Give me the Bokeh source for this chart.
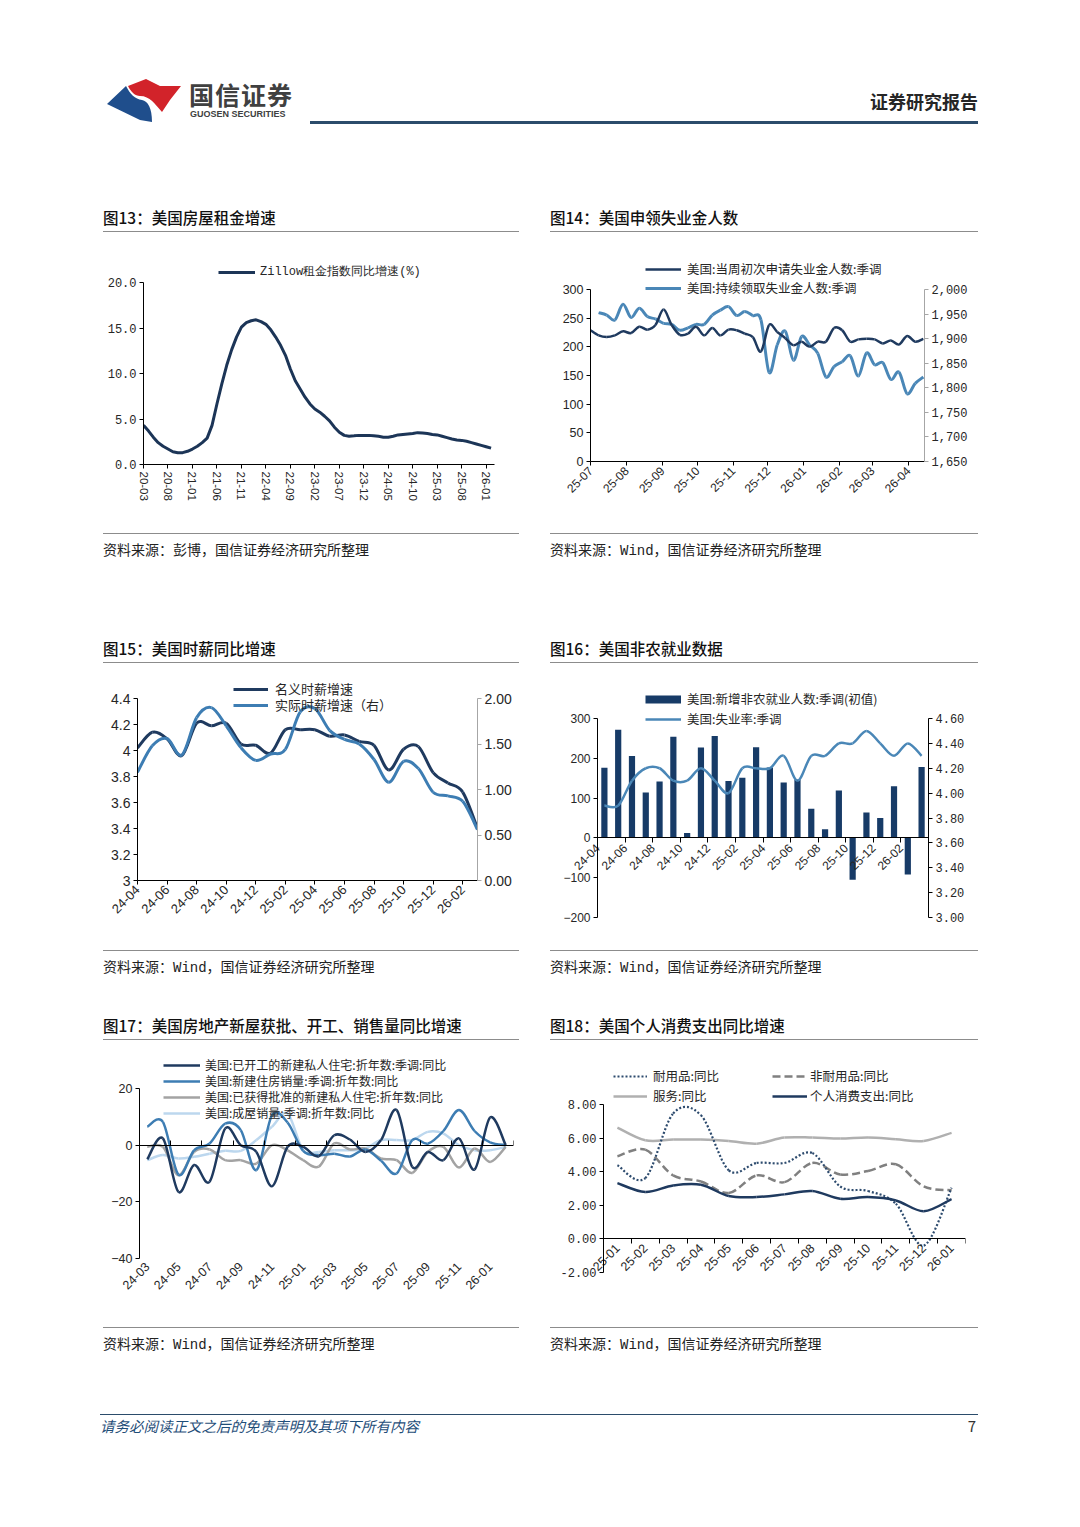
import numpy as np
import pandas as pd
from bokeh.plotting import figure
from bokeh.models import (Range1d, LinearAxis, FixedTicker, NumeralTickFormatter, Legend,
                          LegendItem, Div, Spacer, ColumnDataSource)
from bokeh.layouts import column, row
from bokeh.embed import file_html
from bokeh.resources import INLINE
from bokeh.core.properties import value

# ---------------- data ----------------
# Fig 13: Zillow rent index YoY (%), monthly 20-03 .. 26-02
X13_LABELS = ["20-03", "20-08", "21-01", "21-06", "21-11", "22-04", "22-09", "23-02",
              "23-07", "23-12", "24-05", "24-10", "25-03", "25-08", "26-01"]
ZILLOW = [4.3, 3.7, 3.0, 2.4, 2.0, 1.7, 1.4, 1.3, 1.3, 1.45,
          1.7, 2.0, 2.4, 2.9, 4.3, 6.65, 8.85, 10.9, 12.6, 14.0,
          15.1, 15.6, 15.8, 15.9, 15.7, 15.4, 14.8, 14.0, 13.1, 12.0,
          10.5, 9.2, 8.3, 7.4, 6.65, 6.1, 5.75, 5.3, 4.8, 4.1,
          3.55, 3.2, 3.1, 3.15, 3.2, 3.2, 3.2, 3.15, 3.1, 3.0,
          3.0, 3.1, 3.25, 3.3, 3.35, 3.4, 3.5, 3.45, 3.4, 3.3,
          3.25, 3.1, 2.95, 2.8, 2.7, 2.65, 2.55, 2.4, 2.25, 2.1,
          1.95, 1.8]
Y13_TICKS = [0, 5, 10, 15, 20]

# Fig 14: weekly jobless claims (thousand), from 2025-07
X14_LABELS = ["25-07", "25-08", "25-09", "25-10", "25-11", "25-12", "26-01", "26-02", "26-03", "26-04"]
INITIAL = [229, 220, 217, 220, 227, 224, 235, 230, 238, 265,
           238, 221, 223, 235, 220, 233, 220, 230, 229, 223,
           217, 192, 238, 226, 215, 203, 209, 200, 209, 209,
           233, 229, 209, 213, 214, 213, 206, 211, 204, 219,
           209, 214]
CONTINUING = [1953, 1948, 1938, 1970, 1943, 1962, 1945, 1940, 1931, 1929,
              1917, 1922, 1929, 1929, 1948, 1958, 1965, 1947, 1955, 1947,
              1938, 1831, 1887, 1915, 1856, 1904, 1887, 1870, 1822, 1843,
              1853, 1865, 1824, 1871, 1847, 1851, 1817, 1832, 1788, 1809,
              1822]
Y14L_TICKS = [0, 50, 100, 150, 200, 250, 300]
Y14R_TICKS = [1650, 1700, 1750, 1800, 1850, 1900, 1950, 2000]

# Fig 15: hourly earnings YoY, monthly 24-04 .. 26-03
X15_LABELS = ["24-04", "24-06", "24-08", "24-10", "24-12", "25-02", "25-04", "25-06",
              "25-08", "25-10", "25-12", "26-02"]
NOMINAL = [4.02, 4.14, 4.09, 3.96, 4.21, 4.19, 4.21, 4.05, 4.04, 3.98, 4.16, 4.16,
           4.16, 4.11, 4.12, 4.07, 4.04, 3.85, 4.01, 4.03, 3.83, 3.75, 3.68, 3.40]
REAL = [1.19, 1.48, 1.56, 1.38, 1.79, 1.90, 1.70, 1.46, 1.32, 1.39, 1.44, 1.85,
        1.89, 1.65, 1.55, 1.50, 1.33, 1.08, 1.31, 1.23, 0.97, 0.93, 0.87, 0.56]
Y15L_TICKS = [3, 3.2, 3.4, 3.6, 3.8, 4, 4.2, 4.4]
Y15R_TICKS = [0, 0.5, 1.0, 1.5, 2.0]

# Fig 16: nonfarm payrolls (thousand) and unemployment rate, monthly 24-04 .. 26-03
X16_LABELS = ["24-04", "24-06", "24-08", "24-10", "24-12", "25-02", "25-04", "25-06",
              "25-08", "25-10", "25-12", "26-02"]
PAYROLLS = [176, 272, 206, 114, 142, 254, 12, 227, 256, 143, 151, 228,
            177, 139, 147, 73, 22, 119, -105, 64, 50, 130, -92, 178]
UNRATE = [3.9, 3.9, 4.1, 4.2, 4.2, 4.1, 4.1, 4.2, 4.1, 4.0, 4.2, 4.2,
          4.2, 4.3, 4.1, 4.3, 4.3, 4.4, 4.4, 4.5, 4.4, 4.3, 4.4, 4.3]
Y16L_TICKS = [-200, -100, 0, 100, 200, 300]
Y16R_TICKS = [3.0, 3.2, 3.4, 3.6, 3.8, 4.0, 4.2, 4.4, 4.6]

# Fig 17: housing YoY (%), monthly 24-03 .. 26-02
X17_LABELS = ["24-03", "24-05", "24-07", "24-09", "24-11", "25-01", "25-03", "25-05",
              "25-07", "25-09", "25-11", "26-01"]
STARTS = [-5.0, 2.4, -16.5, -7.0, -12.9, 5.9, 0.0, -2.4, -14.5, -0.6, -0.6, -3.9,
          3.5, 2.0, -2.4, 1.8, 12.4, -7.6, -2.4, -5.3, 2.4, -8.6, 9.8, 0.0]
NEW_SALES = [6.5, 8.2, -10.4, -1.8, 0.6, 7.6, 5.3, -8.8, 10.5, 8.0, -2.0, -3.5,
             -3.0, -4.0, -1.5, -5.5, -10.0, 1.8, 0.5, 5.0, 12.4, 5.0, 1.0, 0.0]
PERMITS = [-0.6, -0.6, -10.6, -2.4, -1.5, -5.3, -5.3, -6.5, 0.0, -1.8, -5.3, -7.6,
           0.6, -1.5, -1.2, -4.7, -5.3, -9.8, -2.4, -0.6, -7.9, -1.2, -5.9, -0.6]
EXISTING = [-5.3, -3.5, -4.7, -4.1, -3.0, -2.0, -2.0, 1.8, 6.5, 11.2, -1.8, -2.4,
            -1.8, -1.8, -1.2, 1.8, 1.8, 1.8, 4.7, 4.1, 0.0, -1.8, -1.8, -0.6]
Y17_TICKS = [-40, -20, 0, 20]

# Fig 18: PCE YoY (%), monthly 25-01 .. 26-01
X18_LABELS = ["25-01", "25-02", "25-03", "25-04", "25-05", "25-06", "25-07", "25-08",
              "25-09", "25-10", "25-11", "25-12", "26-01"]
DURABLES = [4.38, 3.62, 7.46, 7.36, 4.08, 4.52, 4.52, 5.11, 3.12, 2.85, 2.09, -0.40, 3.04]
NONDURABLES = [4.92, 5.31, 3.78, 3.42, 2.73, 3.78, 3.38, 4.52, 3.84, 4.04, 4.44, 3.12, 2.89]
SERVICES = [6.63, 5.87, 5.91, 5.91, 5.83, 5.67, 6.03, 6.03, 5.97, 6.03, 5.93, 5.83, 6.31]
PCE = [3.32, 2.79, 3.18, 3.22, 2.55, 2.49, 2.65, 2.85, 2.39, 2.49, 2.29, 1.65, 2.37]
Y18_TICKS = [-2, 0, 2, 4, 6, 8]

# ---------------- style ----------------
NAVY = "#1f3a5f"
BLUE = "#4a87b7"
BLUE2 = "#3d7db3"
GRAY = "#a3a3a3"
LIGHT = "#bcd7ee"
BAR = "#173b67"
CJK = "Noto Sans CJK SC"
SANS = "Liberation Sans"
MONO = "Liberation Mono"
TXT = "#262626"


def ext_hi(lo, hi, frame_px, extra_px):
    """range end leaving extra_px of free room beyond hi"""
    return hi + extra_px * (hi - lo) / frame_px


def ext_lo(lo, hi, frame_px, extra_px):
    return lo - extra_px * (hi - lo) / frame_px


def base_fig(w, h, xr, yr, bl, br, bt, bb):
    p = figure(width=w, height=h, x_range=xr, y_range=yr, output_backend="svg",
               toolbar_location=None, min_border_left=bl, min_border_right=br,
               min_border_top=bt, min_border_bottom=bb)
    p.margin = 0
    p.outline_line_color = None
    p.xgrid.visible = False
    p.ygrid.visible = False
    p.background_fill_color = "white"
    p.border_fill_color = "white"
    return p


def style_axis(ax, font=SANS, size="12px", color="#000000", tick_out=4, tick_in=0, standoff=3):
    ax.axis_line_color = color
    ax.axis_line_width = 1
    ax.major_tick_line_color = color
    ax.major_tick_out = tick_out
    ax.major_tick_in = tick_in
    ax.minor_tick_line_color = None
    ax.major_label_text_font = font
    ax.major_label_text_font_size = size
    ax.major_label_text_color = TXT
    ax.major_label_standoff = standoff


def smooth(p, xs, ys, color, width, dash="solid", y_range_name="default"):
    xs = np.asarray(xs, float)
    ys = np.asarray(ys, float)
    xp = np.concatenate([xs[:1], xs, xs[-1:]])
    yp = np.concatenate([ys[:1], ys, ys[-1:]])
    i = np.arange(len(xs) - 1)
    src = ColumnDataSource(dict(
        x0=xp[i + 1], y0=yp[i + 1], x1=xp[i + 2], y1=yp[i + 2],
        cx0=xp[i + 1] + (xp[i + 2] - xp[i]) / 6.0, cy0=yp[i + 1] + (yp[i + 2] - yp[i]) / 6.0,
        cx1=xp[i + 2] - (xp[i + 3] - xp[i + 1]) / 6.0, cy1=yp[i + 2] - (yp[i + 3] - yp[i + 1]) / 6.0))
    return p.bezier(x0="x0", y0="y0", x1="x1", y1="y1", cx0="cx0", cy0="cy0",
                    cx1="cx1", cy1="cy1", source=src, line_color=color, line_width=width,
                    line_dash=dash, y_range_name=y_range_name)


def add_legend(p, items, loc, glyph_w, standoff, gh=16, spacing=0, size="12.5px", font=CJK):
    lg = Legend(items=[LegendItem(label=value(t), renderers=[r]) for t, r in items],
                location=loc, orientation="vertical", glyph_width=glyph_w, glyph_height=gh,
                label_height=gh, label_standoff=standoff, spacing=spacing, padding=0, margin=0,
                border_line_color=None, background_fill_alpha=0,
                label_text_font=font, label_text_font_size=size, label_text_color=TXT)
    p.add_layout(lg)
    return lg


def add_row_legends(p, items, x, ys, glyph_w, standoff, gh=14, size="12.5px"):
    """one single-item legend per row, so that rows can sit closer than the text box height"""
    for (t, r), y in zip(items, ys):
        add_legend(p, [(t, r)], (x, y), glyph_w, standoff, gh=gh, spacing=0, size=size)


def xlabels_axis(ax, ticks, labels):
    ax.ticker = FixedTicker(ticks=list(ticks))
    ax.major_label_overrides = {t: s for t, s in zip(ticks, labels)}


def blank_labels(ax, ticks):
    ax.ticker = FixedTicker(ticks=list(ticks))
    ax.major_label_overrides = {t: "" for t in ticks}


# ---------------- Fig 13 ----------------
FH13 = 301 - 50 - 69
p13 = base_fig(416, 301, Range1d(0, 71.7), Range1d(0, ext_hi(0, 20, FH13, 50)), 40, 25, 0, 69)
r13 = p13.line(np.arange(len(ZILLOW)), ZILLOW, line_color="#1c3557", line_width=3)
xa = p13.xaxis[0]
style_axis(xa, SANS, "11.5px")
xlabels_axis(xa, [5 * k for k in range(len(X13_LABELS))], X13_LABELS)
xa.major_label_orientation = "vertical"
ya = p13.yaxis[0]
style_axis(ya, MONO, "12px")
ya.ticker = FixedTicker(ticks=Y13_TICKS)
ya.formatter = NumeralTickFormatter(format="0.0")
ya.bounds = (0, 20)
add_legend(p13, [("Zillow租金指数同比增速(%)", r13)], (75, 184), 37, 5, size="12px", font=MONO)

# ---------------- Fig 14 ----------------
FH14 = 301 - 57 - 72
p14 = base_fig(428, 301, Range1d(0, 288), Range1d(0, ext_hi(0, 300, FH14, 57)), 40, 54, 0, 72)
p14.extra_y_ranges = {"r": Range1d(1650, ext_hi(1650, 2000, FH14, 57))}
r14b = smooth(p14, 7 * (np.arange(len(CONTINUING)) + 1), CONTINUING, BLUE, 3, y_range_name="r")
r14a = smooth(p14, 7 * np.arange(len(INITIAL)), INITIAL, NAVY, 2.5)
start14 = pd.Timestamp("2025-07-01")
tick14 = [(pd.Timestamp("20" + s + "-01") - start14).days for s in X14_LABELS]
xa = p14.xaxis[0]
style_axis(xa, SANS, "12px")
xlabels_axis(xa, tick14, X14_LABELS)
xa.major_label_orientation = np.pi / 4
ya = p14.yaxis[0]
style_axis(ya, SANS, "12.5px")
ya.ticker = FixedTicker(ticks=Y14L_TICKS)
ya.bounds = (0, 300)
yr = LinearAxis(y_range_name="r")
style_axis(yr, MONO, "12px", color="#a6a6a6")
yr.ticker = FixedTicker(ticks=Y14R_TICKS)
yr.formatter = NumeralTickFormatter(format="0,0")
yr.bounds = (1650, 2000)
p14.add_layout(yr, "right")
add_legend(p14, [("美国:当周初次申请失业金人数:季调", r14a), ("美国:持续领取失业金人数:季调", r14b)],
           (55, 164), 36, 6, gh=16, spacing=0)

# ---------------- Fig 15 ----------------
FH15 = 287 - 35 - 70
p15 = base_fig(416, 287, Range1d(0, 23), Range1d(3, ext_hi(3, 4.4, FH15, 35)), 34, 42, 0, 70)
p15.extra_y_ranges = {"r": Range1d(0, ext_hi(0, 2, FH15, 35))}
xm15 = np.arange(len(NOMINAL))
r15a = smooth(p15, xm15, NOMINAL, NAVY, 3)
r15b = smooth(p15, xm15, REAL, BLUE2, 3, y_range_name="r")
xa = p15.xaxis[0]
style_axis(xa, SANS, "13px")
xlabels_axis(xa, [2 * k for k in range(len(X15_LABELS))], X15_LABELS)
xa.major_label_orientation = np.pi / 4
ya = p15.yaxis[0]
style_axis(ya, SANS, "14px")
ya.ticker = FixedTicker(ticks=Y15L_TICKS)
ya.formatter = NumeralTickFormatter(format="0.[0]")
ya.bounds = (3, 4.4)
yr = LinearAxis(y_range_name="r")
style_axis(yr, SANS, "14px", color="#a6a6a6")
yr.ticker = FixedTicker(ticks=Y15R_TICKS)
yr.formatter = NumeralTickFormatter(format="0.00")
yr.bounds = (0, 2)
p15.add_layout(yr, "right")
add_row_legends(p15, [("名义时薪增速", r15a), ("实际时薪增速（右）", r15b)], 96, [182, 166], 35, 7,
                size="13px")

# ---------------- Fig 16 ----------------
FH16 = 287 - 55 - 33
FW16 = 428 - 47 - 50
p16 = base_fig(428, 287, Range1d(ext_lo(0, 24, FW16, 47), 24),
               Range1d(ext_lo(-200, 300, FH16, 33), ext_hi(-200, 300, FH16, 55)), 0, 50, 0, 0)
p16.extra_y_ranges = {"r": Range1d(ext_lo(3.0, 4.6, FH16, 33), ext_hi(3.0, 4.6, FH16, 55))}
xc16 = np.arange(len(PAYROLLS)) + 0.5
p16.vbar(x=xc16, top=PAYROLLS, width=0.45, fill_color=BAR, line_color=None)
r16l = smooth(p16, xc16, UNRATE, BLUE, 2.5, y_range_name="r")
r16proxy = p16.line(x=[np.nan], y=[np.nan], line_color=BAR, line_width=8, line_cap="butt")
xa = p16.xaxis[0]
style_axis(xa, SANS, "12px", tick_out=5)
xa.fixed_location = 0
xa.bounds = (0, 24)
xlabels_axis(xa, [2 * k for k in range(len(X16_LABELS))], X16_LABELS)
xa.major_label_orientation = np.pi / 4
ya = p16.yaxis[0]
style_axis(ya, SANS, "12px")
ya.fixed_location = 0
ya.bounds = (-200, 300)
ya.ticker = FixedTicker(ticks=Y16L_TICKS)
yr = LinearAxis(y_range_name="r")
style_axis(yr, MONO, "12px")
yr.ticker = FixedTicker(ticks=Y16R_TICKS)
yr.formatter = NumeralTickFormatter(format="0.00")
yr.bounds = (3.0, 4.6)
p16.add_layout(yr, "right")
add_legend(p16, [("美国:新增非农就业人数:季调(初值)", r16proxy), ("美国:失业率:季调", r16l)],
           (48 + 47, 222), 36, 6, gh=16, spacing=1)

# ---------------- Fig 17 ----------------
FH17 = 287 - 48 - 69
p17 = base_fig(416, 287, Range1d(-0.5, 23.5), Range1d(-40, ext_hi(-40, 20, FH17, 48)), 36, 6, 0, 69)
xm17 = np.arange(len(STARTS))
r17d = smooth(p17, xm17, EXISTING, LIGHT, 2.5)
r17c = smooth(p17, xm17, PERMITS, GRAY, 2.5)
r17b = smooth(p17, xm17, NEW_SALES, BLUE2, 2.5)
r17a = smooth(p17, xm17, STARTS, NAVY, 2.5)
xa = p17.xaxis[0]
style_axis(xa, SANS, "12.5px", tick_out=0)
xa.axis_line_color = None
xa.major_label_standoff = 6
xlabels_axis(xa, [2 * k for k in range(len(X17_LABELS))], X17_LABELS)
xa.major_label_orientation = np.pi / 4
x0ax = LinearAxis(fixed_location=0)
style_axis(x0ax, SANS, "12px", tick_out=0, tick_in=5)
blank_labels(x0ax, [2 * k + 1.5 for k in range(len(X17_LABELS))])
p17.add_layout(x0ax, "below")
ya = p17.yaxis[0]
style_axis(ya, SANS, "12.5px")
ya.ticker = FixedTicker(ticks=Y17_TICKS)
ya.bounds = (-40, 20)
add_row_legends(p17, [("美国:已开工的新建私人住宅:折年数:季调:同比", r17a),
                      ("美国:新建住房销量:季调:折年数:同比", r17b),
                      ("美国:已获得批准的新建私人住宅:折年数:同比", r17c),
                      ("美国:成屋销量:季调:折年数:同比", r17d)],
                24, [185, 169, 153, 137], 37, 5, size="12px")

# ---------------- Fig 18 ----------------
FH18 = 287 - 64 - 55
FW18 = 428 - 53 - 13
p18 = base_fig(428, 287, Range1d(ext_lo(-0.5, 12.5, FW18, 53), 12.5),
               Range1d(ext_lo(-2, 8, FH18, 55), ext_hi(-2, 8, FH18, 64)), 0, 13, 0, 0)
xm18 = np.arange(len(PCE))
r18s = smooth(p18, xm18, SERVICES, "#b0b0b0", 2.5)
r18n = smooth(p18, xm18, NONDURABLES, "#808080", 2.5, dash="8 4")
r18d = smooth(p18, xm18, DURABLES, "#2d4b6e", 2.2, dash="2 2")
r18p = smooth(p18, xm18, PCE, NAVY, 2.5)
xa = p18.xaxis[0]
style_axis(xa, SANS, "12.5px", tick_out=0)
xa.axis_line_color = None
xa.fixed_location = 0
xa.major_label_standoff = 7
xlabels_axis(xa, list(range(len(X18_LABELS))), X18_LABELS)
xa.major_label_orientation = np.pi / 4
x0ax = LinearAxis(fixed_location=0)
style_axis(x0ax, SANS, "12px", tick_out=5)
x0ax.bounds = (-0.5, 12.5)
blank_labels(x0ax, [k - 0.5 for k in range(len(X18_LABELS) + 1)])
p18.add_layout(x0ax, "below")
ya = p18.yaxis[0]
style_axis(ya, MONO, "12px")
ya.fixed_location = -0.5
ya.bounds = (-2, 8)
ya.ticker = FixedTicker(ticks=Y18_TICKS)
ya.formatter = NumeralTickFormatter(format="0.00")
add_legend(p18, [("耐用品:同比", r18d), ("服务:同比", r18s)], (10 + 53, 222), 34, 6, gh=16, spacing=1)
add_legend(p18, [("非耐用品:同比", r18n), ("个人消费支出:同比", r18p)], (169 + 53, 222), 35, 3,
           gh=16, spacing=1)

# ---------------- page decorations ----------------
FONT_CSS = "font-family:'Noto Sans CJK SC',sans-serif;"


def title_div(text, w):
    html = (f'<div style="position:relative;width:{w}px;height:32px;box-sizing:border-box;'
            f'border-bottom:1px solid #8c8c8c;{FONT_CSS}">'
            f'<div style="position:absolute;left:0;top:6px;line-height:22px;font-size:15.5px;'
            f'font-weight:500;color:#111;white-space:nowrap;">{text}</div></div>')
    return Div(text=html, width=w, height=32, margin=0)


def source_div(text, w):
    html = (f'<div style="position:relative;width:{w}px;height:30px;box-sizing:border-box;'
            f'border-top:1px solid #8c8c8c;{FONT_CSS}">'
            f'<div style="position:absolute;left:0;top:4px;line-height:22px;font-size:14px;'
            f'color:#222;white-space:nowrap;">{text}</div></div>')
    return Div(text=html, width=w, height=30, margin=0)


header_html = (
    f'<div style="position:relative;width:1064px;height:192px;{FONT_CSS}">'
    '<svg width="1064" height="192" style="position:absolute;left:0;top:0;">'
    '<path d="M120 78 L138 71 L152 78 L173 78 L162 92 L154 104 C147 96 142 88 132 88 '
    'C127 88 123 84 120 78 Z" fill="#d2232a"/>'
    '<path d="M99 96 L118 78 C122 86 127 91 134 92 C140 93 144 100 144 114 L132 112 Z" '
    'fill="#1f4e8c"/>'
    '<rect x="302" y="113" width="668" height="3" fill="#2b4c6b"/>'
    '</svg>'
    '<div style="position:absolute;left:181px;top:70px;font-size:25px;line-height:32px;'
    'font-weight:bold;color:#404040;letter-spacing:1px;white-space:nowrap;">国信证券</div>'
    '<div style="position:absolute;left:182px;top:101px;font-size:9px;line-height:10px;'
    'font-weight:bold;color:#404040;font-family:\'Liberation Sans\';white-space:nowrap;">'
    'GUOSEN SECURITIES</div>'
    '<div style="position:absolute;right:94px;top:80px;font-size:18px;line-height:26px;'
    'font-weight:bold;color:#262626;white-space:nowrap;">证券研究报告</div>'
    '</div>')
header = Div(text=header_html, width=1064, height=192, margin=0)

footer_html = (
    f'<div style="position:relative;width:1064px;height:90px;{FONT_CSS}">'
    '<div style="position:absolute;left:92px;top:57px;width:878px;height:1px;background:#2b4c6b;"></div>'
    '<div style="position:absolute;left:92px;top:59px;line-height:20px;font-size:14.5px;'
    'font-style:italic;color:#1f4e79;white-space:nowrap;">请务必阅读正文之后的免责声明及其项下所有内容</div>'
    '<div style="position:absolute;right:96px;top:59px;line-height:20px;font-size:15px;'
    'color:#333;">7</div>'
    '</div>')
footer = Div(text=footer_html, width=1064, height=90, margin=0)

WIND = '<span style="font-family:\'Liberation Mono\';">Wind</span>'
SRC_BB = "资料来源：彭博，国信证券经济研究所整理"
SRC_WIND = f"资料来源：{WIND}，国信证券经济研究所整理"


def block(title, fig, src, w):
    return column(title_div(title, w), fig, source_div(src, w), spacing=0, margin=0)


def page_row(left, right):
    return row(Spacer(width=95, height=10, margin=0), left, Spacer(width=31, height=10, margin=0),
               right, spacing=0, margin=0)


row1 = page_row(block("图13：美国房屋租金增速", p13, SRC_BB, 416),
                block("图14：美国申领失业金人数", p14, SRC_WIND, 428))
row2 = page_row(block("图15：美国时薪同比增速", p15, SRC_WIND, 416),
                block("图16：美国非农就业数据", p16, SRC_WIND, 428))
row3 = page_row(block("图17：美国房地产新屋获批、开工、销售量同比增速", p17, SRC_WIND, 416),
                block("图18：美国个人消费支出同比增速", p18, SRC_WIND, 428))

inner = column(header, row1, Spacer(width=10, height=68, margin=0), row2,
               Spacer(width=10, height=28, margin=0), row3, footer, spacing=0, margin=0)
page = column(Spacer(width=10, height=8, margin=0),
              row(Spacer(width=8, height=10, margin=0), inner, spacing=0, margin=0),
              spacing=0, margin=0)

with open("out.html", "w", encoding="utf-8") as f:
    f.write(file_html(page, INLINE, title="国信证券研究报告"))
